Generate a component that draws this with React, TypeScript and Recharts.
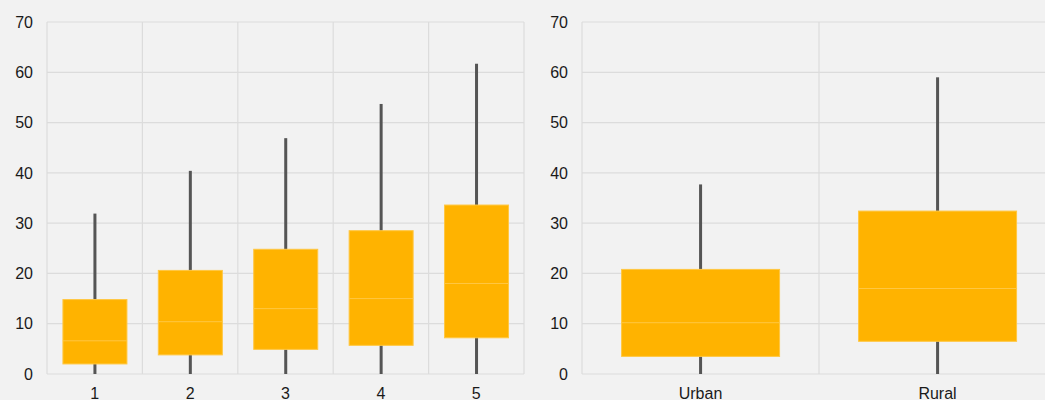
import React from "react";
import { ComposedChart, Bar, XAxis, YAxis, CartesianGrid } from "recharts";

const ageGroups = ["1", "2", "3", "4", "5"];
const ageMin = [0, 0, 0, 0, 0];
const ageQ1 = [2.0, 3.8, 4.9, 5.7, 7.2];
const ageMedian = [6.6, 10.4, 13.0, 15.0, 18.0];
const ageQ3 = [14.8, 20.6, 24.8, 28.5, 33.6];
const ageMax = [31.9, 40.4, 46.9, 53.7, 61.7];

const areas = ["Urban", "Rural"];
const areaMin = [0, 0];
const areaQ1 = [3.5, 6.5];
const areaMedian = [10.2, 17.0];
const areaQ3 = [20.8, 32.4];
const areaMax = [37.7, 59.0];

const yTicks = [0, 10, 20, 30, 40, 50, 60, 70];

const BOX = "#ffb300";
const BOX_LINE = "#ffc742";
const WHISKER = "#555555";
const GRID = "#dcdcdc";
const FONT = "'Liberation Sans', Arial, sans-serif";

type BoxRow = {
  name: string;
  min: number;
  q1: number;
  median: number;
  q3: number;
  max: number;
  range: [number, number];
};

const buildRows = (
  names: string[],
  min: number[],
  q1: number[],
  median: number[],
  q3: number[],
  max: number[]
): BoxRow[] =>
  names.map((name, i) => ({
    name,
    min: min[i],
    q1: q1[i],
    median: median[i],
    q3: q3[i],
    max: max[i],
    range: [min[i], max[i]],
  }));

const ageRows = buildRows(ageGroups, ageMin, ageQ1, ageMedian, ageQ3, ageMax);
const areaRows = buildRows(areas, areaMin, areaQ1, areaMedian, areaQ3, areaMax);

// bar spans min..max in pixels, so map the quartiles inside that range
const BoxShape = (props: any) => {
  const { x, y, width, height, payload } = props;
  const { min, q1, median, q3, max } = payload as BoxRow;
  const toY = (v: number) => y + (height * (max - v)) / (max - min);
  const cx = x + width / 2;
  const top = toY(q3);
  const bottom = toY(q1);
  return (
    <g>
      <rect x={cx - 1.5} y={y} width={3} height={height} fill={WHISKER} />
      <rect
        x={x}
        y={top}
        width={width}
        height={bottom - top}
        fill={BOX}
        stroke={BOX_LINE}
        strokeWidth={1}
      />
      <line x1={x} x2={x + width} y1={toY(median)} y2={toY(median)} stroke={BOX_LINE} strokeWidth={1} />
    </g>
  );
};

const bandLines = (count: number) => ({ offset }: any) => {
  const step = offset.width / count;
  return Array.from({ length: count + 1 }, (_, i) => offset.left + i * step);
};

const BoxChart = ({ rows, width }: { rows: BoxRow[]; width: number }) => (
  <ComposedChart
    width={width}
    height={400}
    data={rows}
    margin={{ top: 22, right: 6, bottom: 0, left: 0 }}
    barCategoryGap="16.7%"
  >
    <CartesianGrid
      stroke={GRID}
      strokeWidth={1.2}
      verticalCoordinatesGenerator={bandLines(rows.length)}
    />
    <XAxis
      dataKey="name"
      height={26}
      axisLine={false}
      tickLine={false}
      tickMargin={8}
      tick={{ fill: "#1a1a1a", fontSize: 16, fontFamily: FONT }}
    />
    <YAxis
      domain={[0, 70]}
      ticks={yTicks}
      width={47}
      axisLine={false}
      tickLine={false}
      tickMargin={8}
      tick={{ fill: "#1a1a1a", fontSize: 16, fontFamily: FONT }}
    />
    <Bar dataKey="range" shape={<BoxShape />} isAnimationActive={false} />
  </ComposedChart>
);

export default function App() {
  return (
    <div
      style={{
        position: "fixed",
        left: 0,
        top: 0,
        width: 1045,
        height: 400,
        overflow: "hidden",
        background: "#f2f2f2",
      }}
    >
      <div style={{ position: "absolute", left: 0, top: 0 }}>
        <BoxChart rows={ageRows} width={530} />
      </div>
      <div style={{ position: "absolute", left: 535, top: 0 }}>
        <BoxChart rows={areaRows} width={527} />
      </div>
    </div>
  );
}
